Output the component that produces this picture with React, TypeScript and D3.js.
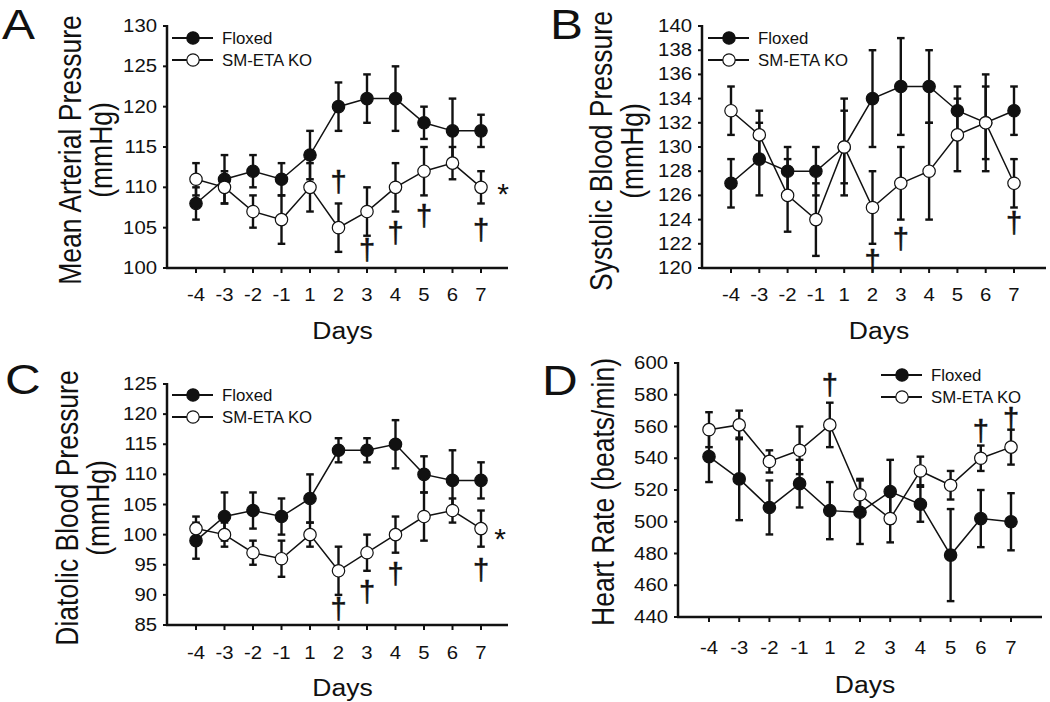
import * as d3 from "d3";

const W = 1050;
const H = 702;
const FONT = "'Liberation Sans', Arial, sans-serif";
const INK = "#111";

// shared x categories
const DAYS = ["-4", "-3", "-2", "-1", "1", "2", "3", "4", "5", "6", "7"];

// A: mean arterial pressure (mmHg)
const A_FLOXED = [108, 111, 112, 111, 114, 120, 121, 121, 118, 117, 117];
const A_FLOXED_ERR = [2, 3, 2, 2, 3, 3, 3, 4, 2, 4, 2];
const A_KO = [111, 110, 107, 106, 110, 105, 107, 110, 112, 113, 110];
const A_KO_ERR = [2, 2, 2, 3, 3, 3, 3, 3, 3, 2, 2];
const A_TICKS = [100, 105, 110, 115, 120, 125, 130];
const A_DAGGERS = [
  { day: "2", v: 110.7 },
  { day: "3", v: 102.2 },
  { day: "4", v: 104.3 },
  { day: "5", v: 106.5 },
  { day: "7", v: 104.7 },
];

// B: systolic
const B_FLOXED = [127, 129, 128, 128, 130, 134, 135, 135, 133, 132, 133];
const B_FLOXED_ERR = [2, 3, 2, 2, 4, 4, 4, 3, 2, 3, 2];
const B_KO = [133, 131, 126, 124, 130, 125, 127, 128, 131, 132, 127];
const B_KO_ERR = [2, 2, 3, 3, 3, 3, 3, 4, 3, 4, 2];
const B_TICKS = [120, 122, 124, 126, 128, 130, 132, 134, 136, 138, 140];
const B_DAGGERS = [
  { day: "2", v: 120.6 },
  { day: "3", v: 122.4 },
  { day: "7", v: 123.7 },
];

// C: diastolic
const C_FLOXED = [99, 103, 104, 103, 106, 114, 114, 115, 110, 109, 109];
const C_FLOXED_ERR = [3, 4, 3, 3, 4, 2, 2, 4, 3, 5, 3];
const C_KO = [101, 100, 97, 96, 100, 94, 97, 100, 103, 104, 101];
const C_KO_ERR = [2, 2, 2, 3, 2, 4, 3, 3, 4, 2, 3];
const C_TICKS = [85, 90, 95, 100, 105, 110, 115, 120, 125];
const C_DAGGERS = [
  { day: "2", v: 87.6 },
  { day: "3", v: 90.4 },
  { day: "4", v: 93.4 },
  { day: "7", v: 94.2 },
];

// D: heart rate (beats/min)
const D_FLOXED = [541, 527, 509, 524, 507, 506, 519, 511, 479, 502, 500];
const D_FLOXED_ERR = [16, 26, 17, 15, 18, 20, 20, 11, 29, 18, 18];
const D_KO = [558, 561, 538, 545, 561, 517, 502, 532, 523, 540, 547];
const D_KO_ERR = [11, 9, 7, 15, 14, 10, 15, 9, 9, 8, 11];
const D_TICKS = [440, 460, 480, 500, 520, 540, 560, 580, 600];
const D_DAGGERS = [
  { day: "1", v: 586 },
  { day: "6", v: 557 },
  { day: "7", v: 565 },
];

const SERIES_NAMES = ["Floxed", "SM-ETA KO"];

// the original figure is a bit stretched sideways, so text gets widened
const SX = 1.13;

type Dagger = { day: string; v: number };
type PanelCfg = {
  letter: string;
  letterX: number;
  letterY: number;
  left: number;
  top: number;
  bottom: number;
  right: number;
  x0: number;
  x1: number;
  ticks: number[];
  floxed: number[];
  floxedErr: number[];
  ko: number[];
  koErr: number[];
  daggers: Dagger[];
  star?: { x: number; v: number };
  titleLines: string[];
  titleX: number;
  titleY: number;
  tickLabelY: number;
  daysY: number;
  legendX: number;
  legendY: number;
};

const panels: PanelCfg[] = [
  {
    letter: "A", letterX: 2, letterY: 39,
    left: 167, top: 26, bottom: 268, right: 508, x0: 196, x1: 481,
    ticks: A_TICKS, floxed: A_FLOXED, floxedErr: A_FLOXED_ERR, ko: A_KO, koErr: A_KO_ERR,
    daggers: A_DAGGERS, star: { x: 503, v: 110 },
    titleLines: ["Mean Arterial Pressure", "(mmHg)"], titleX: 70, titleY: 150,
    tickLabelY: 295, daysY: 331, legendX: 172, legendY: 38,
  },
  {
    letter: "B", letterX: 550, letterY: 39,
    left: 702, top: 26, bottom: 268, right: 1046, x0: 731, x1: 1014,
    ticks: B_TICKS, floxed: B_FLOXED, floxedErr: B_FLOXED_ERR, ko: B_KO, koErr: B_KO_ERR,
    daggers: B_DAGGERS,
    titleLines: ["Systolic Blood Pressure", "(mmHg)"], titleX: 601, titleY: 151,
    tickLabelY: 295, daysY: 331, legendX: 708, legendY: 38,
  },
  {
    letter: "C", letterX: 5, letterY: 394,
    left: 167, top: 384, bottom: 625, right: 508, x0: 196, x1: 481,
    ticks: C_TICKS, floxed: C_FLOXED, floxedErr: C_FLOXED_ERR, ko: C_KO, koErr: C_KO_ERR,
    daggers: C_DAGGERS, star: { x: 500, v: 100.5 },
    titleLines: ["Diatolic Blood Pressure", "(mmHg)"], titleX: 67, titleY: 508,
    tickLabelY: 653, daysY: 688, legendX: 172, legendY: 395,
  },
  {
    letter: "D", letterX: 542, letterY: 395,
    left: 678, top: 363, bottom: 617, right: 1042, x0: 709, x1: 1011,
    ticks: D_TICKS, floxed: D_FLOXED, floxedErr: D_FLOXED_ERR, ko: D_KO, koErr: D_KO_ERR,
    daggers: D_DAGGERS,
    titleLines: ["Heart Rate (beats/min)"], titleX: 603, titleY: 492,
    tickLabelY: 648, daysY: 685, legendX: 881, legendY: 375,
  },
];

function Series({ x, y, means, errs, filled }: any) {
  const line = d3
    .line<number>()
    .x((_, i) => x(DAYS[i]))
    .y((d) => y(d));
  return (
    <g>
      {means.map((m: number, i: number) => {
        const cx = x(DAYS[i]);
        const hi = y(m + errs[i]);
        const lo = y(m - errs[i]);
        return (
          <g key={i} stroke={INK} strokeWidth={2.4}>
            <line x1={cx} x2={cx} y1={hi} y2={lo} />
            <line x1={cx - 3.8} x2={cx + 3.8} y1={hi} y2={hi} />
            <line x1={cx - 3.8} x2={cx + 3.8} y1={lo} y2={lo} />
          </g>
        );
      })}
      <path d={line(means) || ""} fill="none" stroke={INK} strokeWidth={1.5} />
      {means.map((m: number, i: number) => (
        <circle
          key={i}
          cx={x(DAYS[i])}
          cy={y(m)}
          r={6.2}
          fill={filled ? INK : "#fff"}
          stroke={INK}
          strokeWidth={1.2}
        />
      ))}
    </g>
  );
}

function Panel({ p }: { p: PanelCfg }) {
  const x = d3.scalePoint<string>().domain(DAYS).range([p.x0, p.x1]);
  const y = d3
    .scaleLinear()
    .domain([p.ticks[0], p.ticks[p.ticks.length - 1]])
    .range([p.bottom, p.top]);
  const xs = (d: string) => x(d) as number;

  return (
    <g fontFamily={FONT} fill={INK}>
      <text transform={`translate(${p.letterX},${p.letterY}) scale(1.15,1)`} fontSize={43}>
        {p.letter}
      </text>

      {/* y axis */}
      <line x1={p.left} x2={p.left} y1={p.top - 1} y2={p.bottom} stroke={INK} strokeWidth={2.5} />
      {p.ticks.map((t) => (
        <g key={t}>
          <line x1={p.left - 4} x2={p.left} y1={y(t)} y2={y(t)} stroke={INK} strokeWidth={2} />
          <text
            transform={`translate(${p.left - 10},${y(t)}) scale(${SX},1)`}
            fontSize={18}
            textAnchor="end"
            dominantBaseline="central"
          >
            {t}
          </text>
        </g>
      ))}

      {/* x axis */}
      <line x1={p.left - 1} x2={p.right} y1={p.bottom} y2={p.bottom} stroke={INK} strokeWidth={2.5} />
      {DAYS.map((d) => (
        <g key={d}>
          <line x1={xs(d)} x2={xs(d)} y1={p.bottom} y2={p.bottom + 5} stroke={INK} strokeWidth={2} />
          <text
            transform={`translate(${xs(d)},${p.tickLabelY}) scale(${SX},1)`}
            fontSize={18}
            textAnchor="middle"
            dominantBaseline="central"
          >
            {d}
          </text>
        </g>
      ))}
      <text
        transform={`translate(${(p.left + p.right) / 2 + 5},${p.daysY}) scale(${SX},1)`}
        fontSize={23.5}
        textAnchor="middle"
        dominantBaseline="central"
      >
        Days
      </text>

      {/* y title */}
      <text
        transform={`translate(${p.titleX},${p.titleY}) scale(1.15,1) rotate(-90)`}
        fontSize={26.5}
        textAnchor="middle"
        dominantBaseline="central"
      >
        {p.titleLines.map((l, i) => (
          <tspan key={i} x={0} dy={i === 0 ? 0 : 27}>
            {l}
          </tspan>
        ))}
      </text>

      <Series x={xs} y={y} means={p.floxed} errs={p.floxedErr} filled />
      <Series x={xs} y={y} means={p.ko} errs={p.koErr} filled={false} />

      {p.daggers.map((g, i) => (
        <text
          key={i}
          x={xs(g.day)}
          y={y(g.v)}
          fontSize={29}
          textAnchor="middle"
          dominantBaseline="central"
          stroke={INK}
          strokeWidth={0.5}
        >
          †
        </text>
      ))}
      {p.star && (
        <text x={p.star.x} y={y(p.star.v) + 17} fontSize={30} textAnchor="middle">
          *
        </text>
      )}

      {/* legend */}
      {SERIES_NAMES.map((name, i) => {
        const ly = p.legendY + i * 22;
        return (
          <g key={name}>
            <line x1={p.legendX} x2={p.legendX + 41} y1={ly} y2={ly} stroke={INK} strokeWidth={1.8} />
            <circle
              cx={p.legendX + 21}
              cy={ly}
              r={6.2}
              fill={i === 0 ? INK : "#fff"}
              stroke={INK}
              strokeWidth={1.2}
            />
            <text
              transform={`translate(${p.legendX + 50},${ly}) scale(1.05,1)`}
              fontSize={16}
              dominantBaseline="central"
            >
              {name}
            </text>
          </g>
        );
      })}
    </g>
  );
}

export default function App() {
  return (
    <svg
      width={W}
      height={H}
      viewBox={`0 0 ${W} ${H}`}
      style={{ position: "absolute", left: 0, top: 0, background: "#fff" }}
    >
      <rect width={W} height={H} fill="#fff" />
      {panels.map((p) => (
        <Panel key={p.letter} p={p} />
      ))}
    </svg>
  );
}
